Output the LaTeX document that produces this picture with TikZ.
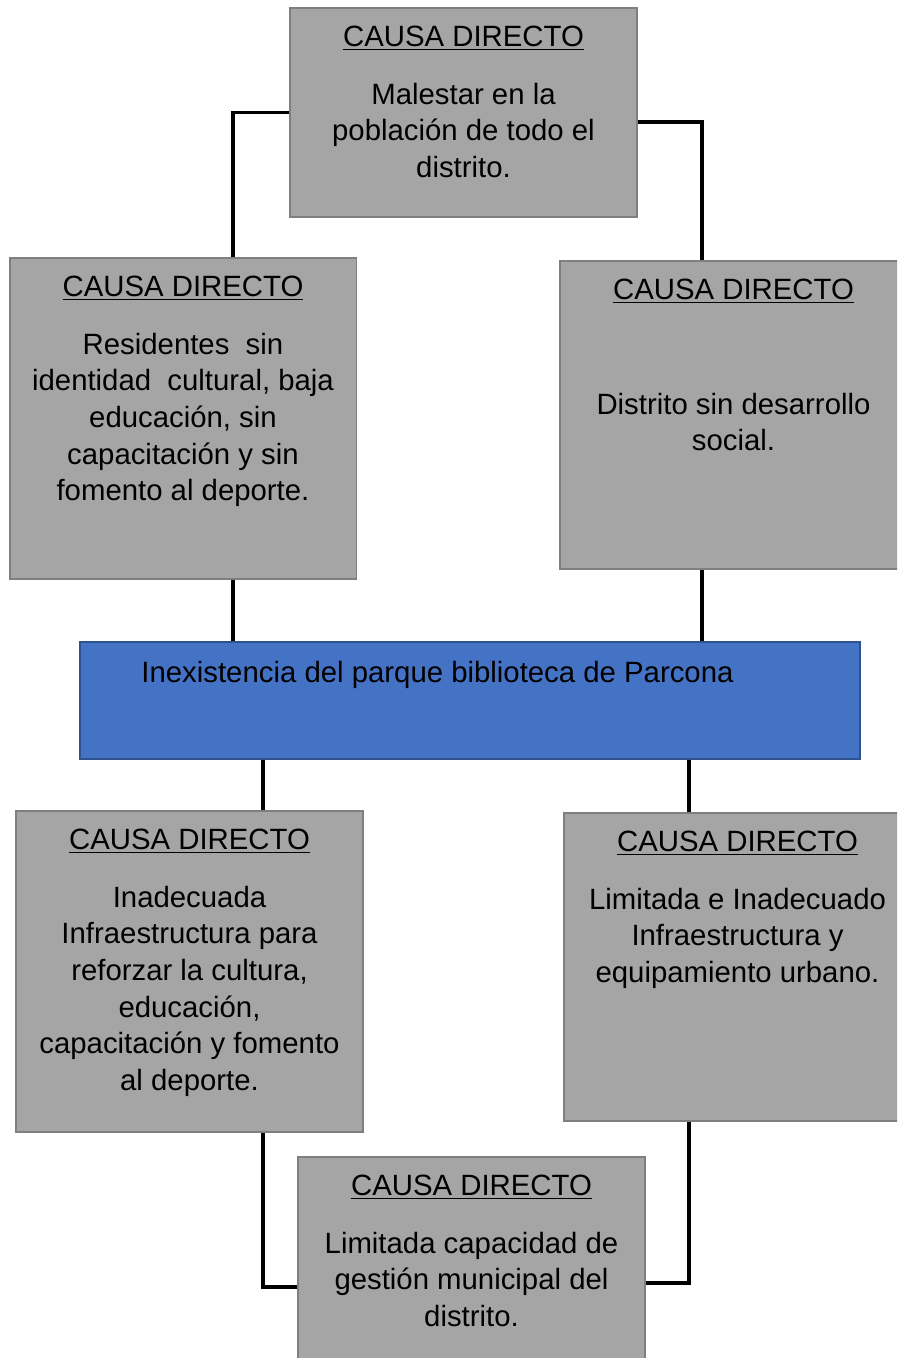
\documentclass[tikz,border=0pt]{standalone}
\usepackage{fontspec}
\setmainfont{Liberation Sans}
\usetikzlibrary{positioning}
\definecolor{boxgray}{HTML}{A5A5A5}
\definecolor{boxline}{HTML}{7F7F7F}
\definecolor{probblue}{HTML}{4472C4}
\definecolor{probline}{HTML}{2F528F}

\begin{document}
\begin{tikzpicture}[x=0.02cm, y=-0.02cm,
      causa/.style={draw=boxline, fill=boxgray, line width=1.1pt, minimum width=6.94cm,
                    inner sep=0pt},
      prob/.style={draw=probline, fill=probblue, line width=1.1pt, minimum width=15.6cm,
                   minimum height=2.34cm, inner sep=0pt},
      txt/.style={anchor=north, align=center, inner sep=0pt,
                  font=\fontsize{16.7}{20.8}\selectfont},
      conn/.style={line width=2pt, black}]
    \useasboundingbox (0,0) rectangle (897,1358);
    \clip (0,0) rectangle (897,1358);
    % boxes
    \node[causa, minimum height=4.18cm] (top) at (463.5,112.5) {};
    \node[causa, minimum height=6.42cm] (resid) at (183,418.5) {};
    \node[causa, minimum height=6.16cm] (distr) at (733.5,415) {};
    \node[prob] (base) at (470,700.5) {};
    \node[causa, minimum height=6.42cm] (infra) at (189.5,971.5) {};
    \node[causa, minimum height=6.16cm] (limit) at (737.5,967) {};
    \node[causa, minimum height=4.18cm] (gest) at (471.5,1261.5) {};
    % texts
    \node[txt] (topt) at ([yshift=-0.37cm]top.north)
      {\underline{CAUSA DIRECTO}\\[0.43cm]Malestar en la\\población de todo el\\distrito.};
    \node[txt] (residt) at ([yshift=-0.37cm]resid.north)
      {\underline{CAUSA DIRECTO}\\[0.43cm]Residentes\ \ sin\\identidad\ \ cultural, baja\\educación, sin\\capacitación y sin\\fomento al deporte.};
    \node[txt] (distrt) at ([yshift=-0.37cm]distr.north)
      {\underline{CAUSA DIRECTO}\\[1.57cm]Distrito sin desarrollo\\social.};
    \node[txt, anchor=base west] (baset) at ([xshift=1.24cm, yshift=-0.82cm]base.north west)
      {Inexistencia del parque biblioteca de Parcona};
    \node[txt] (infrat) at ([yshift=-0.37cm]infra.north)
      {\underline{CAUSA DIRECTO}\\[0.43cm]Inadecuada\\Infraestructura para\\reforzar la cultura,\\educación,\\capacitación y fomento\\al deporte.};
    \node[txt] (limitt) at ([yshift=-0.37cm]limit.north)
      {\underline{CAUSA DIRECTO}\\[0.43cm]Limitada e Inadecuado\\Infraestructura y\\equipamiento urbano.};
    \node[txt] (gestt) at ([yshift=-0.37cm]gest.north)
      {\underline{CAUSA DIRECTO}\\[0.43cm]Limitada capacidad de\\gestión municipal del\\distrito.};
    % connectors
    \draw[conn] (top.west) -| ([xshift=1cm]resid.north);
    \draw[conn] ([yshift=-0.19cm]top.east) -| ([xshift=-0.63cm]distr.north);
    \draw[conn] ([xshift=1cm]resid.south) -- ([xshift=1cm]resid.south |- base.north);
    \draw[conn] ([xshift=-0.63cm]distr.south) -- ([xshift=-0.63cm]distr.south |- base.north);
    \draw[conn] ([xshift=1.47cm]infra.north) -- ([xshift=1.47cm]infra.north |- base.south);
    \draw[conn] ([xshift=-0.97cm]limit.north) -- ([xshift=-0.97cm]limit.north |- base.south);
    \draw[conn] ([xshift=1.47cm]infra.south) |- ([yshift=-0.51cm]gest.west);
    \draw[conn] ([xshift=-0.97cm]limit.south) |- ([yshift=-0.43cm]gest.east);
  \end{tikzpicture}
\end{document}
